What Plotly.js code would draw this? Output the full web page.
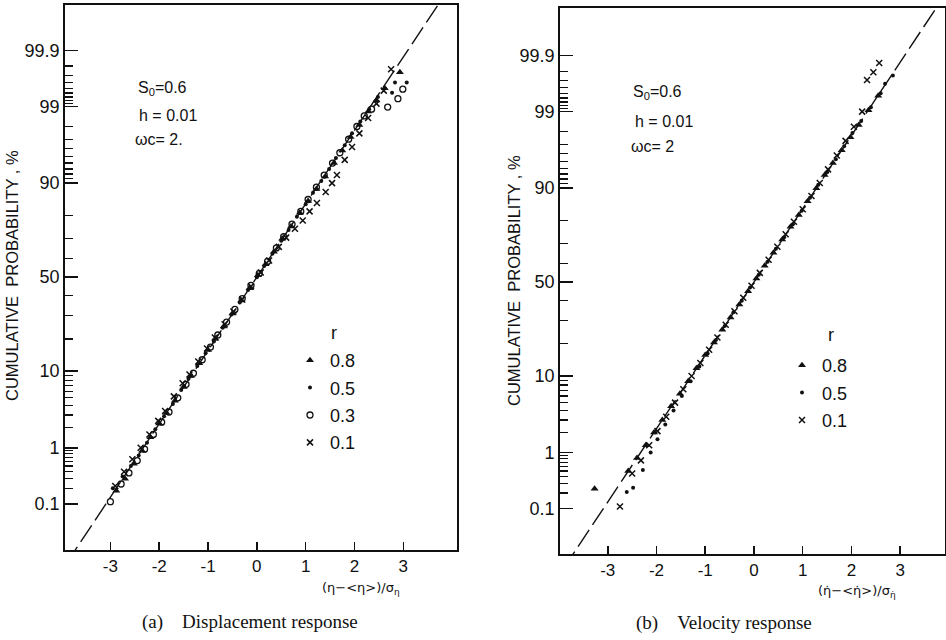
<!DOCTYPE html>
<html>
<head>
<meta charset="utf-8">
<script src="https://cdn.plot.ly/plotly-3.0.1.min.js"></script>
<style>html,body{margin:0;padding:0;background:#fff;}#chart{width:946px;height:640px;}</style>
</head>
<body>
<div id="chart"></div>
<script>
// ---------- DATA ----------
// Panel (a): displacement response, x = (eta-<eta>)/sigma, p = cumulative probability %
const aTriX = [-2.88,-2.7,-2.52,-2.35,-2.18,-2.0,-1.85,-1.68,-1.5,-1.35,-1.18,-1.0,-0.85,-0.68,-0.5,-0.32,-0.15,0.02,0.18,0.35,0.52,0.7,0.88,1.05,1.22,1.4,1.58,1.75,1.92,2.1,2.28,2.45,2.62,2.93];
const aTriP = [0.18,0.3,0.55,0.9,1.45,2.3,3.2,4.6,6.7,8.9,12,16,20,25,31,37.5,44,51,57,63.5,70,75.5,81,85,88.5,91.5,94,95.8,97.2,98.1,98.8,99.2,99.5,99.74];
const aDotX = [-2.95,-2.75,-2.58,-2.42,-2.25,-2.08,-1.9,-1.72,-1.55,-1.4,-1.22,-1.05,-0.88,-0.7,-0.52,-0.35,-0.18,0.0,0.15,0.32,0.5,0.65,0.82,1.0,1.15,1.32,1.48,1.62,1.8,1.95,2.12,2.3,2.48,2.77,2.83,3.07];
const aDotP = [0.2,0.33,0.5,0.75,1.2,1.9,2.9,4.2,6.2,8.3,11.3,15,19,24.5,30.5,36.5,43,50,56,62.5,69,74,79.5,84,87.5,90.5,93,94.8,96.4,97.5,98.3,98.9,99.3,99.4,99.6,99.6];
const aCirX = [-3.0,-2.78,-2.62,-2.45,-2.3,-2.12,-1.95,-1.8,-1.62,-1.45,-1.3,-1.12,-0.95,-0.8,-0.62,-0.45,-0.3,-0.12,0.05,0.22,0.4,0.55,0.72,0.9,1.05,1.22,1.38,1.55,1.7,1.88,2.05,2.2,2.35,2.68,2.89,2.99];
const aCirP = [0.11,0.24,0.38,0.62,0.95,1.6,2.4,3.3,5.0,7.2,9.5,13,17,21.5,27,33,38.5,45.5,52,58.5,65.5,71,76.5,81.5,85.5,89,91.8,94,95.5,97,98,98.6,98.9,98.98,99.25,99.48];
const aCrsX = [-2.9,-2.72,-2.55,-2.38,-2.2,-2.02,-1.88,-1.7,-1.52,-1.38,-1.2,-1.02,-0.86,-0.66,-0.48,-0.3,-0.12,0.08,0.25,0.45,0.6,0.78,0.94,1.08,1.23,1.41,1.54,1.64,1.8,1.95,2.1,2.28,2.45,2.6,2.75];
const aCrsP = [0.22,0.4,0.65,1.0,1.6,2.5,3.4,5.2,7.4,9.2,12.5,16.5,20.5,26,32,38,45,52.5,59,66,70.5,74.5,78,81.5,84.4,87.7,90,91.8,94.5,96.2,97.5,98.5,99.1,99.45,99.77];

// Panel (b): velocity response
const bTriX = [-3.27,-2.58,-2.4,-2.22,-2.05,-1.88,-1.7,-1.52,-1.35,-1.18,-1.0,-0.82,-0.65,-0.48,-0.3,-0.12,0.05,0.22,0.4,0.58,0.75,0.92,1.1,1.28,1.45,1.62,1.8,1.98,2.15,2.35,2.55];
const bTriP = [0.24,0.5,0.82,1.3,2.0,3.0,4.5,6.4,8.8,12,16,20.5,25.8,31.5,38,45,52,58.8,65.5,72,77.5,82,86.5,90,92.8,94.8,96.4,97.6,98.4,99.05,99.45];
const bDotX = [-2.61,-2.48,-2.28,-2.12,-1.98,-1.82,-1.65,-1.48,-1.3,-1.12,-0.95,-0.78,-0.6,-0.42,-0.25,-0.08,0.1,0.28,0.45,0.62,0.8,0.98,1.15,1.32,1.5,1.68,1.85,2.02,2.2,2.4,2.6,2.69,2.85];
const bDotP = [0.21,0.25,0.52,1.0,1.6,2.6,4.0,6.0,8.8,12.5,16.5,21.5,27.5,34,40,47,54,61,67.5,73,78.5,83.5,87.5,90.8,93.3,95.3,96.8,97.9,98.6,99.15,99.5,99.66,99.76];
const bCrsX = [-2.75,-2.5,-2.32,-2.15,-1.98,-1.8,-1.62,-1.45,-1.28,-1.1,-0.92,-0.75,-0.58,-0.4,-0.22,-0.05,0.12,0.3,0.48,0.65,0.82,1.0,1.18,1.35,1.52,1.7,1.88,2.05,2.22,2.32,2.45,2.57];
const bCrsP = [0.11,0.45,0.75,1.3,2.1,3.3,5.0,7.2,10,13.5,17.8,22.5,28,34.5,41.5,48,55,62,68.5,74.3,79.5,84,88,91.2,93.8,95.8,97.3,98.3,99.0,99.71,99.79,99.86];

// Reference normal line (standardised variable)
const lineX = [-4.2, 4.2];
const lineZ = [-4.2, 4.2];

// Probability-paper ticks (%)
const majorTickP = [0.1, 1, 10, 50, 90, 99, 99.9];
const majorTickText = ["0.1", "1", "10", "50", "90", "99", "99.9"];
const minorTickP = [0.2,0.3,0.4,0.5,0.6,0.7,0.8,0.9,2,3,4,5,6,7,8,9,20,30,40,60,70,80,91,92,93,94,95,96,97,98,99.1,99.2,99.3,99.4,99.5,99.6,99.7,99.8];
const xTickVals = [-3,-2,-1,0,1,2,3];
const xTickText = ["-3","-2","-1","0","1","2","3"];

// ---------- probability scale (inverse normal CDF) ----------
function probit(pp) {
  const p = pp / 100;
  const a=[-3.969683028665376e+01,2.209460984245205e+02,-2.759285104469687e+02,1.383577518672690e+02,-3.066479806614716e+01,2.506628277459239e+00];
  const b=[-5.447609879822406e+01,1.615858368580409e+02,-1.556989798598866e+02,6.680131188771972e+01,-1.328068155288572e+01];
  const c=[-7.784894002430293e-03,-3.223964580411365e-01,-2.400758277161838e+00,-2.549671010029134e+00,4.374664141464968e+00,2.938163982698783e+00];
  const d=[7.784695709041462e-03,3.224671290700398e-01,2.445134137142996e+00,3.754408661907416e+00];
  const pl = 0.02425, ph = 1 - pl;
  let q, r;
  if (p < pl) {
    q = Math.sqrt(-2*Math.log(p));
    return (((((c[0]*q+c[1])*q+c[2])*q+c[3])*q+c[4])*q+c[5])/((((d[0]*q+d[1])*q+d[2])*q+d[3])*q+1);
  } else if (p <= ph) {
    q = p - 0.5; r = q*q;
    return (((((a[0]*r+a[1])*r+a[2])*r+a[3])*r+a[4])*r+a[5])*q/(((((b[0]*r+b[1])*r+b[2])*r+b[3])*r+b[4])*r+1);
  } else {
    q = Math.sqrt(-2*Math.log(1-p));
    return -(((((c[0]*q+c[1])*q+c[2])*q+c[3])*q+c[4])*q+c[5])/((((d[0]*q+d[1])*q+d[2])*q+d[3])*q+1);
  }
}
const Z = arr => arr.map(probit);

// ---------- styling ----------
const W = 946, H = 640;
const px = v => v / W, py = v => 1 - v / H;
const INK = '#111';
const sans = 'Liberation Sans, Arial, sans-serif';
const serif = 'Liberation Serif, Times New Roman, serif';

const mk = {
  tri: {symbol: 'triangle-up', size: 7, color: INK},
  dot: {symbol: 'circle', size: 4, color: INK},
  cir: {symbol: 'circle-open', size: 6, color: INK, line: {width: 1.3, color: INK}},
  crs: {symbol: 'x-thin-open', size: 6, color: INK, line: {width: 1.5, color: INK}}
};

function pts(x, p, m, name, xa, ya, leg, grp) {
  return {type: 'scatter', mode: 'markers', x: x, y: Z(p), marker: m, name: name,
          xaxis: xa, yaxis: ya, legend: leg, legendgroup: grp, showlegend: true, hoverinfo: 'skip'};
}
const dashLine = (xa, ya) => ({type: 'scatter', mode: 'lines', x: lineX, y: lineZ, xaxis: xa, yaxis: ya,
  line: {color: INK, width: 1.4, dash: '20px,6px'}, showlegend: false, hoverinfo: 'skip'});

const traces = [
  dashLine('x', 'y'),
  pts(aTriX, aTriP, mk.tri, '0.8', 'x', 'y', 'legend', 'a1'),
  pts(aDotX, aDotP, mk.dot, '0.5', 'x', 'y', 'legend', 'a2'),
  pts(aCirX, aCirP, mk.cir, '0.3', 'x', 'y', 'legend', 'a3'),
  pts(aCrsX, aCrsP, mk.crs, '0.1', 'x', 'y', 'legend', 'a4'),
  dashLine('x2', 'y2'),
  pts(bTriX, bTriP, mk.tri, '0.8', 'x2', 'y2', 'legend2', 'b1'),
  pts(bDotX, bDotP, mk.dot, '0.5', 'x2', 'y2', 'legend2', 'b2'),
  pts(bCrsX, bCrsP, mk.crs, '0.1', 'x2', 'y2', 'legend2', 'b3')
];

function xax(domain, range) {
  return {domain: domain, range: range, tickmode: 'array', tickvals: xTickVals, ticktext: xTickText,
    ticks: 'inside', ticklen: 8, tickwidth: 1.5, tickcolor: INK, showline: true, linewidth: 1.8, linecolor: INK,
    mirror: true, showgrid: false, zeroline: false, tickfont: {family: sans, size: 17, color: INK}};
}
function yax(domain, range, anchor) {
  return {domain: domain, range: range, anchor: anchor, tickmode: 'array', tickvals: Z(majorTickP), ticktext: majorTickText,
    ticks: 'inside', ticklen: 13, tickwidth: 1.5, tickcolor: INK, showline: true, linewidth: 1.8, linecolor: INK,
    mirror: true, showgrid: false, zeroline: false, tickfont: {family: sans, size: 18, color: INK},
    minor: {tickmode: 'array', tickvals: Z(minorTickP), ticks: 'inside', ticklen: 8, tickwidth: 1.3, tickcolor: INK, showgrid: false}};
}

const ann = (x, y, text, opts) => Object.assign({xref: 'paper', yref: 'paper', x: px(x), y: py(y), text: text,
  showarrow: false, xanchor: 'left', yanchor: 'middle', font: {family: sans, size: 16, color: INK}}, opts || {});

const layout = {
  width: W, height: H, margin: {l: 0, r: 0, t: 0, b: 0},
  paper_bgcolor: '#fff', plot_bgcolor: '#fff',
  xaxis: Object.assign(xax([px(65), px(457)], [-3.93, 4.10]), {anchor: 'y'}),
  yaxis: yax([1 - 550/H, 1 - 5/H], [-3.72, 3.71], 'x'),
  xaxis2: Object.assign(xax([px(560), px(945)], [-3.98, 3.92]), {anchor: 'y2'}),
  yaxis2: yax([1 - 554/H, 1 - 8/H], [-3.71, 3.74], 'x2'),
  legend: {x: px(290), y: py(342), xanchor: 'left', yanchor: 'top', bgcolor: 'rgba(0,0,0,0)',
    font: {family: sans, size: 18, color: INK}, tracegroupgap: 1, itemwidth: 30},
  legend2: {x: px(782), y: py(347), xanchor: 'left', yanchor: 'top', bgcolor: 'rgba(0,0,0,0)',
    font: {family: sans, size: 18, color: INK}, tracegroupgap: 1, itemwidth: 30},
  annotations: [
    ann(136, 89, 'S<sub>0</sub>=0.6'),
    ann(137, 115, 'h = 0.01'),
    ann(133, 139, 'ωc= 2.'),
    ann(631, 93, 'S<sub>0</sub>=0.6'),
    ann(633, 121, 'h = 0.01'),
    ann(629, 146, 'ωc= 2'),
    ann(329, 333, 'r', {font: {family: sans, size: 18, color: INK}}),
    ann(826, 335, 'r', {font: {family: sans, size: 18, color: INK}}),
    ann(12, 276, 'CUMULATIVE  PROBABILITY , %', {xanchor: 'center', textangle: -90, font: {family: sans, size: 16.5, color: INK}}),
    ann(514, 281, 'CUMULATIVE  PROBABILITY , %', {xanchor: 'center', textangle: -90, font: {family: sans, size: 16.5, color: INK}}),
    ann(361, 588, '(η−&lt;η&gt;)/σ<sub>η</sub>', {xanchor: 'center', font: {family: 'DejaVu Sans, sans-serif', size: 13, color: INK}}),
    ann(857, 591, '(η\u0307−&lt;η\u0307&gt;)/σ<sub>η\u0307</sub>', {xanchor: 'center', font: {family: 'DejaVu Sans, sans-serif', size: 13, color: INK}}),
    ann(250, 622, '(a)\u00a0\u00a0\u00a0\u00a0Displacement response', {xanchor: 'center', font: {family: serif, size: 19, color: INK}}),
    ann(724, 623, '(b)\u00a0\u00a0\u00a0\u00a0Velocity response', {xanchor: 'center', font: {family: serif, size: 19, color: INK}})
  ]
};

Plotly.newPlot('chart', traces, layout, {staticPlot: true, displayModeBar: false});
</script>
</body>
</html>
